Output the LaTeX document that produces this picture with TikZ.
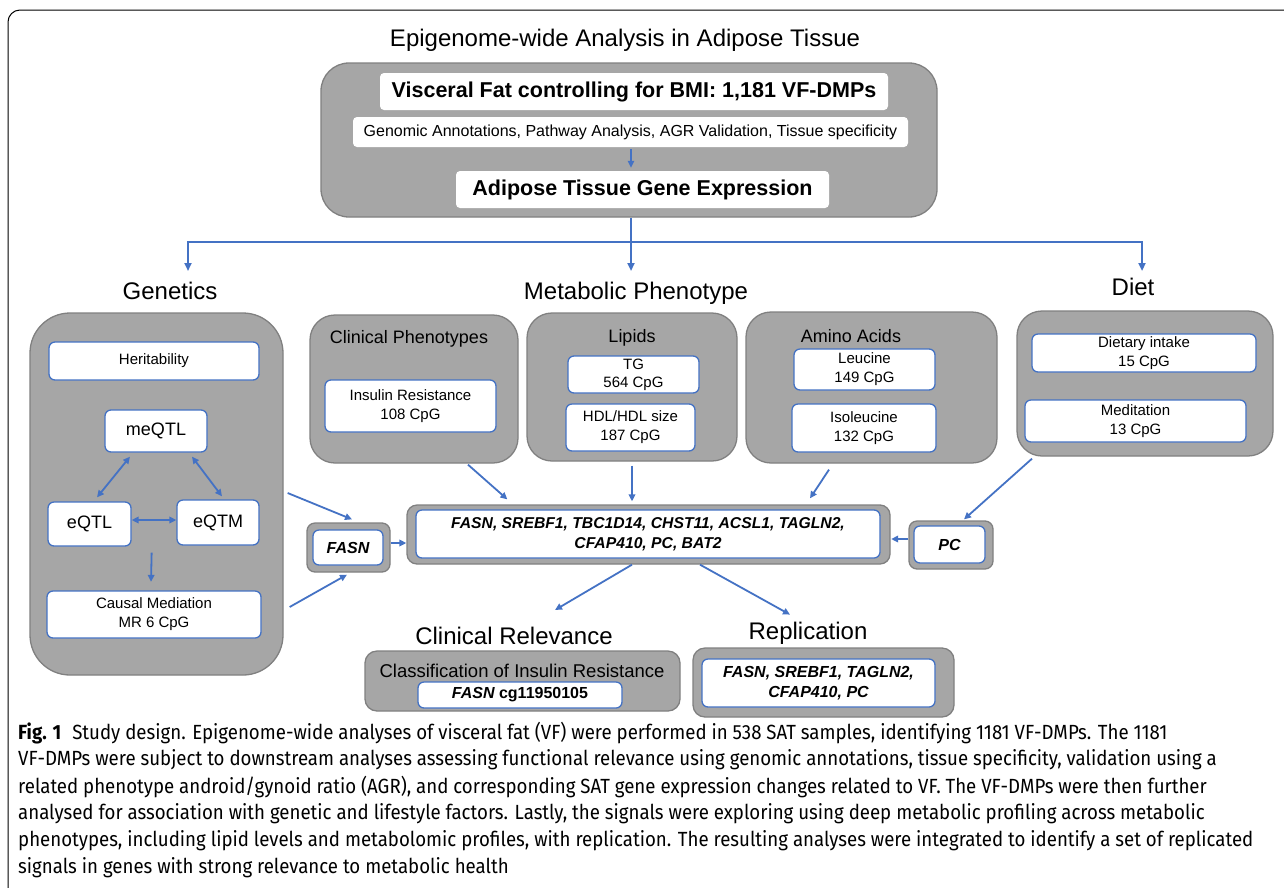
\documentclass[tikz,border=0pt]{standalone}
\usepackage{fontspec}
\setmainfont{Liberation Sans}
\newfontfamily\capfont[FakeStretch=0.91]{Fira Sans}
\usetikzlibrary{arrows.meta,calc}
\definecolor{gfill}{HTML}{A6A6A6}
\definecolor{gline}{HTML}{808080}
\definecolor{bl}{HTML}{4472C4}
\newcommand\myfs[2]{\fontsize{#1}{#2}\selectfont}
\begin{document}
\begin{tikzpicture}[x=1pt,y=-1pt,
  gbox/.style={draw=gline, line width=1.3pt, fill=gfill, rounded corners=#1, inner sep=0pt},
  gbox/.default=12pt,
  wbox/.style={draw=bl, line width=1.3pt, fill=white, rounded corners=6pt, inner sep=0pt, align=center, font=\myfs{15}{19}},
  tbox/.style={fill=white, rounded corners=4pt, inner sep=0pt, align=center},
  gene/.style={wbox, font=\myfs{16}{20}\bfseries\itshape},
  lab/.style={inner sep=0pt, font=\myfs{24}{28}},
  glab/.style={inner sep=0pt, font=\myfs{18}{22}},
  arr/.style={draw=bl, line width=1.8pt, -{Triangle[length=7pt,width=6.5pt]}},
  darr/.style={draw=bl, line width=1.8pt, {Triangle[length=7pt,width=6.5pt]}-{Triangle[length=7pt,width=6.5pt]}},
  tree/.style={draw=bl, line width=2.4pt},
  capl/.style={anchor=west, inner sep=0pt, font=\capfont\myfs{20.5}{24}}
]
\useasboundingbox (0,0) rectangle (1284,887);
\draw[line width=1pt, rounded corners=12pt] (8,900) -- (8,10) -- (1300,10);

% title and top box
\node[lab] (title) at (625,40) {Epigenome-wide Analysis in Adipose Tissue};
\node[gbox=28pt, minimum width=616pt, minimum height=154pt] (top) at (629,140) {};
\node[tbox, minimum width=508pt, minimum height=37pt, font=\myfs{21.5}{25}\bfseries] (vf) at (634,91.5) {Visceral Fat controlling for BMI: 1,181 VF-DMPs};
\node[tbox, minimum width=555pt, minimum height=30pt, font=\myfs{16}{19}] (ann) at (630.5,132) {Genomic Annotations, Pathway Analysis, AGR Validation, Tissue specificity};
\node[tbox, minimum width=373pt, minimum height=37pt, font=\myfs{21.5}{25}\bfseries] (ate) at (642.5,189.5) {Adipose Tissue Gene Expression};
\draw[arr, line width=1.4pt] ($(ann.south)+(0.5,2)$) -- ($(ate.north)+(-11.5,-3)$);

% tree
\coordinate (j) at (631,242);
\coordinate (tL) at (188,271);
\coordinate (tM) at (631,271);
\coordinate (tR) at (1142,271);
\draw[tree] ($(top.south)+(2,0)$) -- (j);
\draw[tree, -{Triangle[length=8pt,width=7pt]}] (j) -| (tL);
\draw[tree, -{Triangle[length=8pt,width=7pt]}] (j) -| (tR);
\draw[tree, -{Triangle[length=8pt,width=7pt]}] (j) -- (tM);

% section labels
\node[lab] (genlab) at (170,291) {Genetics};
\node[lab] (mplab) at (636,293) {Metabolic Phenotype};
\node[lab] (dietlab) at (1133,287) {Diet};

% genetics
\node[gbox=40pt, minimum width=253pt, minimum height=362pt] (gen) at (156.5,494) {};
\node[wbox, minimum width=210pt, minimum height=38pt] (her) at (154,361) {Heritability};
\node[wbox, minimum width=102pt, minimum height=42pt, font=\myfs{18}{22}] (meqtl) at (156,431) {meQTL};
\node[wbox, minimum width=83pt, minimum height=44pt, font=\myfs{18}{22}] (eqtl) at (89.5,524) {eQTL};
\node[wbox, minimum width=82pt, minimum height=45pt, font=\myfs{18}{22}] (eqtm) at (218,522.5) {eQTM};
\node[wbox, minimum width=214pt, minimum height=47pt] (causal) at (154,614.5) {Causal Mediation\\MR 6 CpG};
\draw[darr] ($(meqtl.south)+(-26,4)$) -- ($(eqtl.north)+(7.5,-4)$);
\draw[darr] ($(meqtl.south)+(36,4)$) -- ($(eqtm.north)+(4,-3)$);
\draw[darr] ($(eqtl.east)+(0,-4)$) -- ($(eqtm.west)+(0,-2.5)$);
\draw[arr] ($(eqtl.south east)+(20,6)$) -- ($(causal.north)+(-3,-8.5)$);

% clinical phenotypes
\node[gbox=25pt, minimum width=208pt, minimum height=148pt] (clin) at (414,389) {};
\node[glab] (clinlab) at (409,339) {Clinical Phenotypes};
\node[wbox, minimum width=171pt, minimum height=52pt] (ins) at (410.5,406) {Insulin Resistance\\108 CpG};

% lipids
\node[gbox=25pt, minimum width=210pt, minimum height=148pt] (lip) at (632,387) {};
\node[glab] (liplab) at (632,338) {Lipids};
\node[wbox, minimum width=131pt, minimum height=37pt, font=\myfs{15}{18}] (tg) at (633.5,374.5) {TG\\564 CpG};
\node[wbox, minimum width=129pt, minimum height=47pt] (hdl) at (630.5,427.5) {HDL/HDL size\\187 CpG};

% amino acids
\node[gbox=25pt, minimum width=251pt, minimum height=151pt] (amino) at (871.5,387.5) {};
\node[glab] (aalab) at (851,336) {Amino Acids};
\node[wbox, minimum width=141pt, minimum height=41pt] (leu) at (864.5,369.5) {Leucine\\149 CpG};
\node[wbox, minimum width=144pt, minimum height=48pt] (ile) at (864,428) {Isoleucine\\132 CpG};

% diet
\node[gbox=25pt, minimum width=256pt, minimum height=145pt] (diet) at (1145,383.5) {};
\node[wbox, minimum width=224pt, minimum height=38pt] (di) at (1144,353) {Dietary intake\\15 CpG};
\node[wbox, minimum width=221pt, minimum height=42pt] (med) at (1135.5,421) {Meditation\\13 CpG};

% central
\node[gbox=10pt, minimum width=483pt, minimum height=59pt] (cenG) at (648.5,534.5) {};
\node[gene, minimum width=464pt, minimum height=48pt, font=\myfs{15.7}{20}\bfseries\itshape] (cen) at (648,534) {FASN, SREBF1, TBC1D14, CHST11, ACSL1, TAGLN2,\\CFAP410, PC, BAT2};
\node[gbox=8pt, minimum width=83pt, minimum height=49pt] (fasnG) at (348.5,547.5) {};
\node[gene, minimum width=70pt, minimum height=35pt] (fasnW) at (348,547.5) {FASN};
\node[gbox=8pt, minimum width=84pt, minimum height=48pt] (pcG) at (951,545) {};
\node[gene, minimum width=71pt, minimum height=37pt] (pcW) at (949.5,544.5) {PC};

% arrows into central
\draw[arr] ($(gen.east)+(4,-1)$) -- ($(fasnG.north)+(3.5,-3)$);
\draw[arr] ($(gen.east)+(6,113)$) -- ($(fasnG.south)+(-1.5,2)$);
\draw[arr] ($(fasnG.east)+(0,-4.5)$) -- ($(cenG.west)+(0,8.5)$);
\draw[arr] ($(pcG.west)+(0,-6)$) -- ($(cenG.east)+(0.5,4.5)$);
\draw[arr] ($(clin.south)+(54,1)$) -- ($(cenG.north west)+(101,-5)$);
\draw[arr] ($(lip.south)+(0,4)$) -- ($(cenG.north)+(-16.5,-3)$);
\draw[arr] ($(amino.south)+(-42.5,6)$) -- ($(cenG.north)+(161.5,-6)$);
\draw[arr] ($(diet.south)+(-113,2)$) -- ($(pcG.north)+(13,-1)$);

% outputs
\node[lab] (crlab) at (514,636) {Clinical Relevance};
\node[lab] (rplab) at (808,633) {Replication};
\draw[arr] ($(cenG.south)+(-16.5,0)$) -- ($(crlab.north)+(41,-17)$);
\draw[arr] ($(cenG.south)+(51.5,0)$) -- ($(rplab.north)+(-18,-7)$);

\node[gbox=12pt, minimum width=315pt, minimum height=60pt] (cr) at (522.5,681) {};
\node[glab, font=\myfs{18.5}{22}] (cllab) at (522,671) {Classification of Insulin Resistance};
\node[wbox, minimum width=204pt, minimum height=26pt, font=\myfs{16}{20}\bfseries] (fcg) at (520,695) {\itshape FASN\upshape\ cg11950105};
\node[gbox=12pt, minimum width=261pt, minimum height=69pt] (rp) at (823.5,682.5) {};
\node[gene, minimum width=233pt, minimum height=48pt] (rpw) at (818.5,683) {FASN, SREBF1, TAGLN2,\\CFAP410, PC};

% caption
\node[capl] (c1) at (18,733) {{\bfseries Fig. 1}\hspace{11pt}Study design. Epigenome-wide analyses of visceral fat (VF) were performed in 538 SAT samples, identifying 1181 VF-DMPs. The 1181};
\node[capl] (c2) at (18,760) {VF-DMPs were subject to downstream analyses assessing functional relevance using genomic annotations, tissue specificity, validation using a};
\node[capl] (c3) at (18,787) {related phenotype android/gynoid ratio (AGR), and corresponding SAT gene expression changes related to VF. The VF-DMPs were then further};
\node[capl] (c4) at (18,814) {analysed for association with genetic and lifestyle factors. Lastly, the signals were exploring using deep metabolic profiling across metabolic};
\node[capl] (c5) at (18,841) {phenotypes, including lipid levels and metabolomic profiles, with replication. The resulting analyses were integrated to identify a set of replicated};
\node[capl] (c6) at (18,868) {signals in genes with strong relevance to metabolic health};
\end{tikzpicture}
\end{document}
